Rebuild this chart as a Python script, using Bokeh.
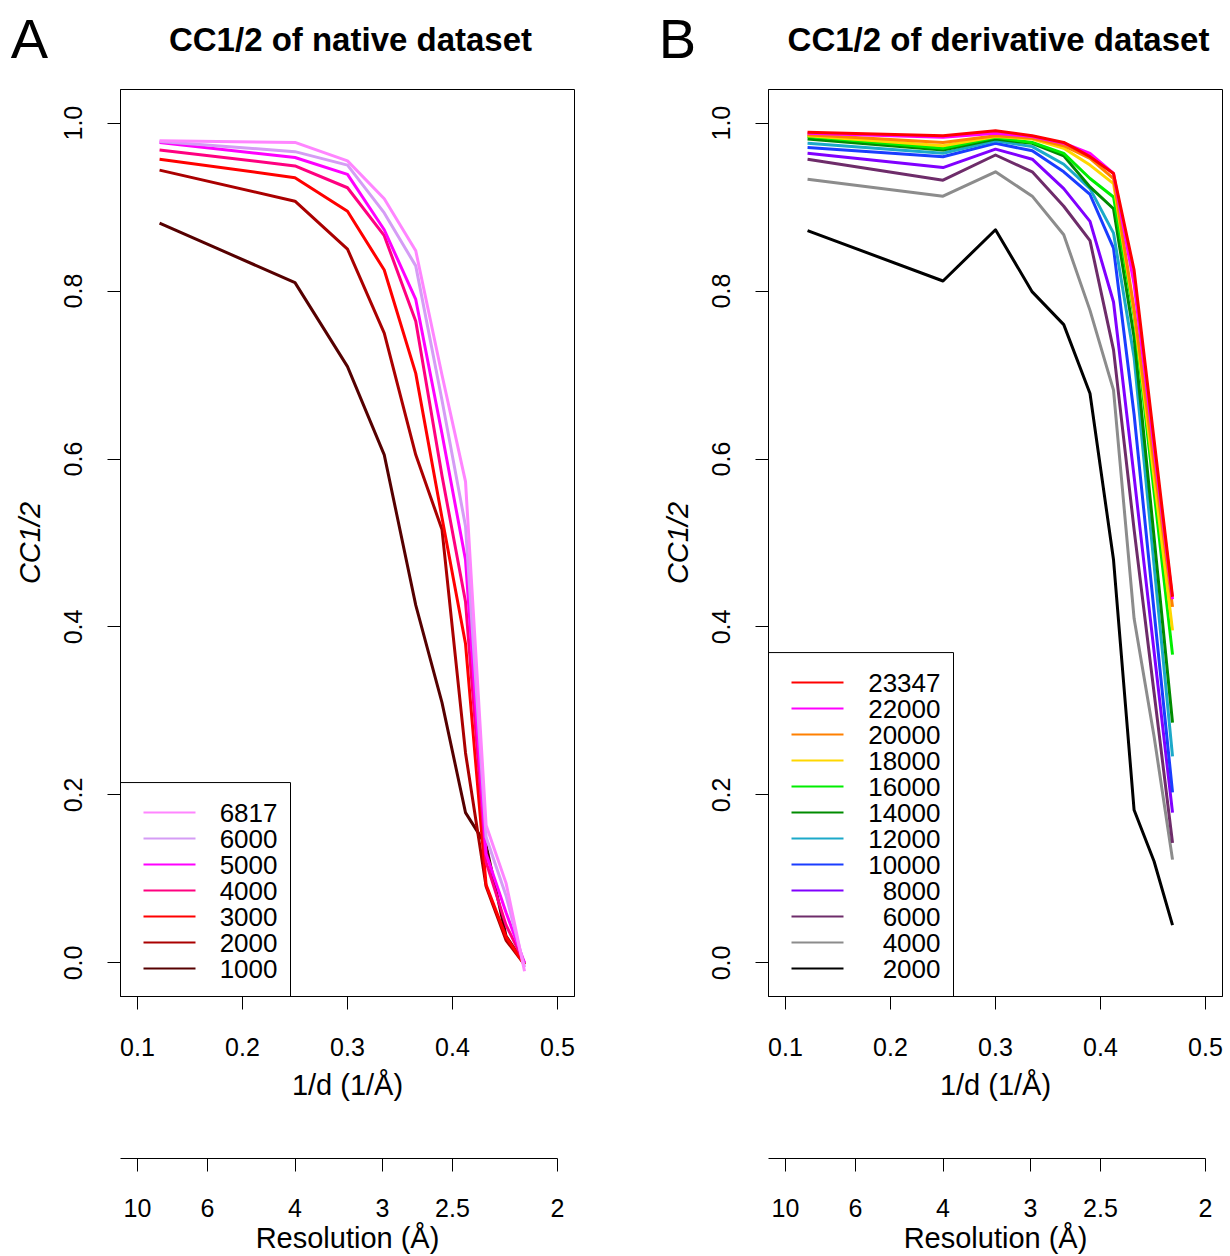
from bokeh.plotting import figure
from bokeh.models import (Range1d, LinearAxis, FixedTicker, PrintfTickFormatter,
                          CustomJSTickFormatter)
from bokeh.core.properties import value
from bokeh.layouts import row, column
from bokeh.embed import file_html
from bokeh.resources import INLINE

# ---------------- data ----------------
inv_d = [0.121, 0.25, 0.30, 0.335, 0.365, 0.39, 0.4124, 0.432, 0.451, 0.4686]
x_ticks = [0.1, 0.2, 0.3, 0.4, 0.5]
y_ticks = [0.0, 0.2, 0.4, 0.6, 0.8, 1.0]
res_ticks = [10, 6, 4, 3, 2.5, 2]

native_names = ["6817", "6000", "5000", "4000", "3000", "2000", "1000"]
nat_6817 = [0.979, 0.977, 0.955, 0.910, 0.848, 0.700, 0.573, 0.164, 0.095, -0.010]
nat_6000 = [0.978, 0.966, 0.950, 0.893, 0.830, 0.670, 0.520, 0.150, 0.080, -0.005]
nat_5000 = [0.977, 0.959, 0.939, 0.873, 0.790, 0.630, 0.480, 0.130, 0.060, 0.000]
nat_4000 = [0.968, 0.949, 0.923, 0.866, 0.764, 0.580, 0.430, 0.120, 0.045, 0.000]
nat_3000 = [0.957, 0.935, 0.895, 0.825, 0.702, 0.530, 0.380, 0.093, 0.031, -0.002]
nat_2000 = [0.944, 0.907, 0.850, 0.750, 0.605, 0.516, 0.250, 0.091, 0.027, -0.002]
nat_1000 = [0.881, 0.810, 0.710, 0.605, 0.426, 0.310, 0.179, 0.140, 0.032, -0.001]
native_series = [nat_6817, nat_6000, nat_5000, nat_4000, nat_3000, nat_2000, nat_1000]
native_colors = ["#FF85FF", "#D59CF5", "#FF00FF", "#FF0080", "#FF0000", "#AA0000", "#560000"]

deriv_names = ["23347", "22000", "20000", "18000", "16000", "14000",
               "12000", "10000", "8000", "6000", "4000", "2000"]
der_23347 = [0.989, 0.985, 0.991, 0.985, 0.977, 0.960, 0.940, 0.825, 0.623, 0.436]
der_22000 = [0.988, 0.983, 0.988, 0.984, 0.976, 0.964, 0.940, 0.808, 0.613, 0.433]
der_20000 = [0.986, 0.977, 0.985, 0.982, 0.973, 0.958, 0.934, 0.779, 0.595, 0.424]
der_18000 = [0.985, 0.973, 0.984, 0.981, 0.970, 0.950, 0.928, 0.774, 0.578, 0.396]
der_16000 = [0.984, 0.970, 0.983, 0.977, 0.964, 0.934, 0.912, 0.770, 0.561, 0.367]
der_14000 = [0.981, 0.968, 0.981, 0.976, 0.961, 0.924, 0.898, 0.745, 0.507, 0.286]
der_12000 = [0.976, 0.964, 0.979, 0.972, 0.951, 0.922, 0.869, 0.721, 0.474, 0.246]
der_10000 = [0.971, 0.960, 0.976, 0.967, 0.942, 0.915, 0.851, 0.653, 0.419, 0.203]
der_8000 = [0.964, 0.947, 0.969, 0.957, 0.922, 0.883, 0.787, 0.579, 0.371, 0.179]
der_6000 = [0.957, 0.932, 0.962, 0.942, 0.901, 0.860, 0.730, 0.516, 0.322, 0.143]
der_4000 = [0.933, 0.913, 0.942, 0.913, 0.867, 0.777, 0.682, 0.410, 0.270, 0.123]
der_2000 = [0.872, 0.812, 0.873, 0.799, 0.760, 0.678, 0.480, 0.182, 0.121, 0.045]
deriv_series = [der_23347, der_22000, der_20000, der_18000, der_16000, der_14000,
                der_12000, der_10000, der_8000, der_6000, der_4000, der_2000]
deriv_colors = ["#FF0000", "#FF00FF", "#FF8000", "#FFD700", "#00EE00", "#008B00",
                "#1CA9C9", "#1A3DFF", "#8000FF", "#6E2C6A", "#8C8C8C", "#000000"]

# ---------------- layout constants ----------------
FONT = "Liberation Sans"
PX_X = 1050.0          # pixels per unit of 1/d
PX_Y = 840.0           # pixels per unit of CC1/2
X_LO = 0.1 - 17 / PX_X
Y_LO, Y_HI = -0.04, 1.04
FRAME_W = 454
FRAME_H = 907
HEAD_H = 80
MAIN_TOP = 9
MAIN_BOTTOM = 114
AX_FRAME_H = 50
AX_BOTTOM = 96
LEG_ROW = 26
LEG_FIRST = 30
LEG_GLYPH = (23, 75)
LEG_TEXT_PAD = 13


def style_axis(ax, tick_size="25px", label_size="29px"):
    ax.axis_line_color = "black"
    ax.major_tick_line_color = "black"
    ax.minor_tick_line_color = None
    ax.major_tick_out = 13
    ax.major_tick_in = 0
    ax.major_label_text_font = FONT
    ax.major_label_text_font_size = tick_size
    ax.major_label_text_color = "black"
    ax.axis_label_text_font = FONT
    ax.axis_label_text_font_size = label_size
    ax.axis_label_text_font_style = "normal"
    ax.axis_label_text_color = "black"


def bare(fig):
    fig.xgrid.visible = False
    fig.ygrid.visible = False
    fig.background_fill_color = "white"
    fig.border_fill_color = "white"


def panel(letter, title, names, series, colors, fig_w, left_b, letter_dx, leg_w):
    right_b = fig_w - left_b - FRAME_W
    xr = Range1d(X_LO, X_LO + FRAME_W / PX_X)

    # header with panel letter and title (pixel coordinates)
    h = figure(width=fig_w, height=HEAD_H, x_range=Range1d(0, fig_w), y_range=Range1d(0, HEAD_H),
               output_backend="svg", toolbar_location=None,
               x_axis_location=None, y_axis_location=None,
               min_border_left=0, min_border_right=0, min_border_top=0, min_border_bottom=0)
    h.frame_align = False
    bare(h)
    h.outline_line_color = None
    h.text(x=[left_b + letter_dx], y=[HEAD_H - 38], text=[letter], text_align="center",
           text_baseline="middle", text_font=value(FONT), text_font_size="56px",
           text_color="black")
    h.text(x=[left_b + FRAME_W / 2 + 3], y=[HEAD_H - 39], text=[title], text_align="center",
           text_baseline="middle", text_font=value(FONT), text_font_size="33px",
           text_font_style="bold", text_color="black")

    p = figure(width=fig_w, height=MAIN_TOP + FRAME_H + MAIN_BOTTOM, x_range=xr,
               y_range=Range1d(Y_LO, Y_HI),
               output_backend="svg", toolbar_location=None,
               x_axis_location=None, y_axis_location=None,
               min_border_left=left_b, min_border_right=right_b,
               min_border_top=MAIN_TOP, min_border_bottom=MAIN_BOTTOM)
    bare(p)
    p.outline_line_color = "black"
    p.outline_line_width = 1
    p.outline_line_alpha = 1

    xa = LinearAxis(ticker=FixedTicker(ticks=x_ticks),
                    formatter=PrintfTickFormatter(format="%.1f"),
                    axis_label="1/d (1/Å)")
    style_axis(xa)
    xa.major_label_standoff = 28
    xa.axis_label_standoff = 10
    p.add_layout(xa, "below")

    ya = LinearAxis(ticker=FixedTicker(ticks=y_ticks),
                    formatter=PrintfTickFormatter(format="%.1f"),
                    axis_label="CC1/2")
    style_axis(ya)
    ya.major_label_orientation = "vertical"
    ya.major_label_standoff = 25
    ya.axis_label_standoff = 16
    ya.axis_label_text_font_style = "italic"
    p.add_layout(ya, "left")

    # data lines (last series drawn first so the first series ends on top)
    for vals, col in reversed(list(zip(series, colors))):
        p.line(inv_d, vals, line_color=col, line_width=3, line_join="round")

    # legend box in the bottom-left corner of the frame
    n = len(names)
    leg_h = LEG_FIRST + LEG_ROW * (n - 1) + LEG_FIRST - 2
    lx0 = X_LO
    ly0 = Y_LO
    p.quad(left=[lx0], right=[lx0 + leg_w / PX_X], bottom=[ly0], top=[ly0 + leg_h / PX_Y],
           fill_color="white", line_color="black", line_width=1)
    row_y = [ly0 + (leg_h - LEG_FIRST - LEG_ROW * i) / PX_Y for i in range(n)]
    p.segment(x0=[lx0 + LEG_GLYPH[0] / PX_X] * n, x1=[lx0 + LEG_GLYPH[1] / PX_X] * n,
              y0=row_y, y1=row_y, line_color=colors, line_width=2)
    p.text(x=[lx0 + (leg_w - LEG_TEXT_PAD) / PX_X] * n, y=row_y, text=names,
           text_align="right", text_baseline="middle", text_font=value(FONT),
           text_font_size="26px", text_color="black")

    q = figure(width=fig_w, height=AX_FRAME_H + AX_BOTTOM, x_range=xr, y_range=Range1d(0, 1),
               output_backend="svg", toolbar_location=None,
               x_axis_location=None, y_axis_location=None,
               min_border_left=left_b, min_border_right=right_b,
               min_border_top=0, min_border_bottom=AX_BOTTOM)
    bare(q)
    q.outline_line_color = None
    ra = LinearAxis(ticker=FixedTicker(ticks=[1.0 / r for r in res_ticks]),
                    formatter=CustomJSTickFormatter(
                        code="const r = 1/tick; return String(Math.round(r*10)/10);"),
                    axis_label="Resolution (Å)", bounds=(X_LO, max(1.0 / r for r in res_ticks)))
    style_axis(ra)
    ra.major_label_standoff = 27
    ra.axis_label_standoff = 2
    q.add_layout(ra, "below")
    return column(h, p, q, spacing=0)


colA = panel("A", "CC1/2 of native dataset", native_names, native_series, native_colors,
             656, 120, -91, 170)
colB = panel("B", "CC1/2 of derivative dataset", deriv_names, deriv_series, deriv_colors,
             572, 112, -91, 185)

layout = row(colA, colB, spacing=0)
open("out.html", "w").write(file_html(layout, INLINE))
